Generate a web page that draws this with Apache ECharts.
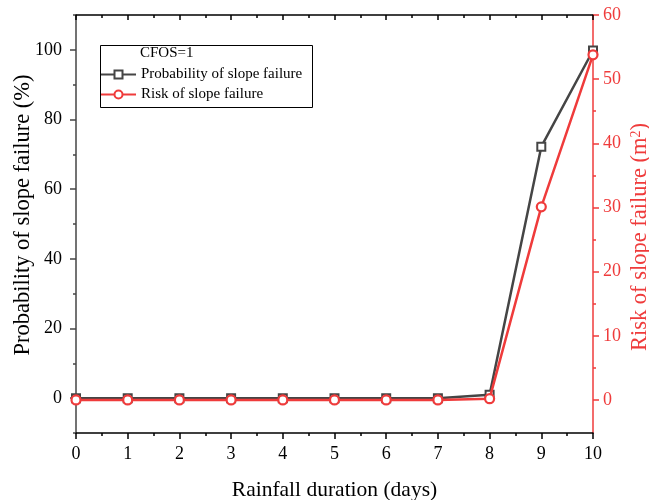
<!DOCTYPE html>
<html><head><meta charset="utf-8">
<script src="https://cdn.jsdelivr.net/npm/echarts@6/dist/echarts.min.js"></script>
<style>html,body{margin:0;padding:0;background:#fff;overflow:hidden}#c{width:649px;height:500px}</style>
</head><body><div id="c"></div>
<script>
var days = [0,1,2,3,4,5,6,7,8,9,10];
var probability = [0,0,0,0,0,0,0,0,1.0,72.2,99.8];
var risk = [0,0,0,0,0,0,0,0,0.2,30.1,53.8];
var leftMajor = [0,20,40,60,80,100];
var leftMinor = [-10,10,30,50,70,90,110];
var rightMajor = [0,10,20,30,40,50,60];
var rightMinor = [5,15,25,35,45,55];

var FONT = 'Liberation Serif';
var GRAY = '#454545';
var RED = '#ef3b3b';

var chart = echarts.init(document.getElementById('c'), null, {renderer:'canvas'});
function pairs(ys){ return days.map(function(d,i){ return [d, ys[i]]; }); }

chart.setOption({
  animation:false,
  textStyle:{fontFamily:FONT},
  grid:{left:76, right:56, top:15, bottom:67, containLabel:false, outerBoundsMode:'none'},
  xAxis:[{
    type:'value', min:0, max:10, interval:1, position:'bottom',
    name:'Rainfall duration (days)', nameLocation:'middle', nameGap:46, nameMoveOverlap:false,
    nameTextStyle:{fontFamily:FONT, fontSize:21.5, color:'#000'},
    axisLine:{onZero:false, lineStyle:{color:'#000', width:1.5}},
    axisTick:{inside:false, length:6, lineStyle:{color:'#000', width:1.5}},
    minorTick:{show:true, splitNumber:2, length:3, lineStyle:{color:'#000', width:1.5}},
    axisLabel:{fontFamily:FONT, fontSize:18, color:'#000', margin:12},
    splitLine:{show:false}
  },{
    type:'value', min:0, max:10, interval:1, position:'top',
    axisLine:{onZero:false, lineStyle:{color:'#000', width:1.5}},
    axisTick:{inside:true, length:5, lineStyle:{color:'#000', width:1.5}},
    minorTick:{show:true, splitNumber:2, length:3, lineStyle:{color:'#000', width:1.5}},
    axisLabel:{show:false}, splitLine:{show:false}
  }],
  yAxis:[{
    type:'value', min:-10, max:110, position:'left',
    name:'Probability of slope failure (%)', nameLocation:'middle', nameGap:41, nameRotate:90, nameMoveOverlap:false,
    nameTextStyle:{fontFamily:FONT, fontSize:22.5, color:'#000', padding:[0,0,0,18]},
    axisLine:{show:true, onZero:false, lineStyle:{color:GRAY, width:1.5}},
    axisTick:{show:true, inside:false, length:6, customValues:leftMajor, lineStyle:{color:GRAY, width:1.5}},
    axisLabel:{fontFamily:FONT, fontSize:18, color:'#000', margin:14, customValues:leftMajor},
    splitLine:{show:false}
  },{
    type:'value', min:-5.15, max:60, position:'right',
    name:'{a|Risk of slope failure (m}{s|2}{a|)}', nameLocation:'middle', nameGap:36, nameRotate:90, nameMoveOverlap:false,
    nameTextStyle:{fontFamily:FONT, fontSize:22.5, color:RED, padding:[0,26,0,0],
      rich:{a:{fontFamily:FONT, fontSize:22.5, color:RED}, s:{fontFamily:FONT, fontSize:14, color:RED, verticalAlign:'top', padding:[0,0,8,0]}}},
    axisLine:{show:true, onZero:false, lineStyle:{color:RED, width:1.5}},
    axisTick:{show:true, inside:false, length:6, customValues:rightMajor, lineStyle:{color:RED, width:1.5}},
    axisLabel:{fontFamily:FONT, fontSize:18, color:RED, margin:10, customValues:rightMajor},
    splitLine:{show:false}
  },{
    type:'value', min:-10, max:110, position:'left',
    axisLine:{show:false, onZero:false},
    axisTick:{show:true, inside:false, length:3, customValues:leftMinor, lineStyle:{color:GRAY, width:1.5}},
    axisLabel:{show:false}, splitLine:{show:false}
  },{
    type:'value', min:-5.15, max:60, position:'right',
    axisLine:{show:false, onZero:false},
    axisTick:{show:true, inside:false, length:3, customValues:rightMinor, lineStyle:{color:RED, width:1.5}},
    axisLabel:{show:false}, splitLine:{show:false}
  }],
  legend:{
    left:100, top:67, orient:'vertical', padding:0, itemWidth:35, itemHeight:10, itemGap:5,
    textStyle:{fontFamily:FONT, fontSize:15, color:'#000'},
    data:['Probability of slope failure','Risk of slope failure']
  },
  graphic:[
    {type:'rect', left:98, top:43, shape:{width:212, height:62}, style:{fill:'none', stroke:'#000', lineWidth:1}, z:100},
    {type:'text', left:140, top:46, style:{text:'CFOS=1', font:'15px "Liberation Serif"', fill:'#000'}, z:100}
  ],
  series:[{
    name:'Probability of slope failure', type:'line', xAxisIndex:0, yAxisIndex:0,
    data:pairs(probability), symbol:'rect', symbolSize:8,
    lineStyle:{color:GRAY, width:2.5}, itemStyle:{color:'#fff', borderColor:GRAY, borderWidth:2}, z:2
  },{
    name:'Risk of slope failure', type:'line', xAxisIndex:0, yAxisIndex:1,
    data:pairs(risk), symbol:'circle', symbolSize:9,
    lineStyle:{color:RED, width:2.5}, itemStyle:{color:'#fff', borderColor:RED, borderWidth:2.2}, z:3
  }]
});
</script></body></html>
